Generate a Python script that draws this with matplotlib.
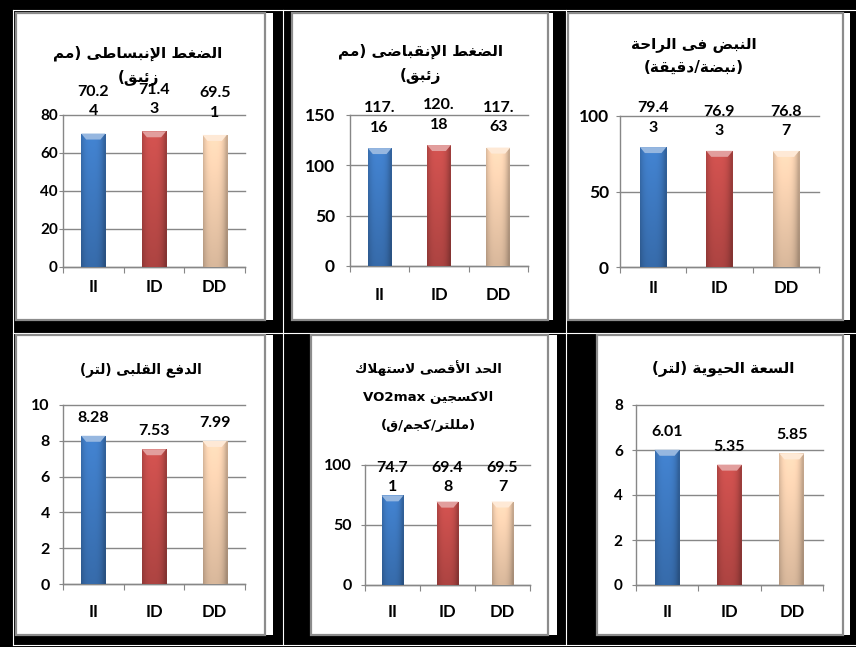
import re

import numpy as np
import matplotlib
matplotlib.use('Agg')
from matplotlib import pyplot as plt
from matplotlib.patches import Rectangle, Polygon
from matplotlib.transforms import blended_transform_factory

W, H = 856, 647
DPI = 100

GROUPS = ['II', 'ID', 'DD']

DIASTOLIC = [70.24, 71.43, 69.51]
SYSTOLIC = [117.16, 120.18, 117.63]
RESTING_PULSE = [79.43, 76.93, 76.87]
CARDIAC_OUTPUT = [8.28, 7.53, 7.99]
VO2MAX = [74.71, 69.48, 69.57]
VITAL_CAPACITY = [6.01, 5.35, 5.85]

TITLE_DIASTOLIC = ['الضغط الإنبساطى (مم', 'زئبق)']
TITLE_SYSTOLIC = ['الضغط الإنقباضى (مم', 'زئبق)']
TITLE_PULSE = ['النبض فى الراحة', '(نبضة/دقيقة)']
TITLE_OUTPUT = ['الدفع القلبى (لتر)']
TITLE_VO2 = ['الحد الأقصى لاستهلاك', 'الاكسجين VO2max', '(مللتر/كجم/ق)']
TITLE_VITAL = ['السعة الحيوية (لتر)']

BAR_COLORS = [(0.25, 0.49, 0.78), (0.79, 0.31, 0.30), (0.99, 0.84, 0.71)]
GRID = '#878787'
FRAME = '#8c8c8c'

# base code point in Presentation Forms-B and number of contextual forms
ARABIC_FORMS = {
    'ء': (0xFE80, 1), 'آ': (0xFE81, 2), 'أ': (0xFE83, 2), 'ؤ': (0xFE85, 2),
    'إ': (0xFE87, 2), 'ئ': (0xFE89, 4), 'ا': (0xFE8D, 2), 'ب': (0xFE8F, 4),
    'ة': (0xFE93, 2), 'ت': (0xFE95, 4), 'ث': (0xFE99, 4), 'ج': (0xFE9D, 4),
    'ح': (0xFEA1, 4), 'خ': (0xFEA5, 4), 'د': (0xFEA9, 2), 'ذ': (0xFEAB, 2),
    'ر': (0xFEAD, 2), 'ز': (0xFEAF, 2), 'س': (0xFEB1, 4), 'ش': (0xFEB5, 4),
    'ص': (0xFEB9, 4), 'ض': (0xFEBD, 4), 'ط': (0xFEC1, 4), 'ظ': (0xFEC5, 4),
    'ع': (0xFEC9, 4), 'غ': (0xFECD, 4), 'ف': (0xFED1, 4), 'ق': (0xFED5, 4),
    'ك': (0xFED9, 4), 'ل': (0xFEDD, 4), 'م': (0xFEE1, 4), 'ن': (0xFEE5, 4),
    'ه': (0xFEE9, 4), 'و': (0xFEED, 2), 'ى': (0xFEEF, 2), 'ي': (0xFEF1, 4),
}
LAM_ALEF = {'آ': 0xFEF5, 'أ': 0xFEF7, 'إ': 0xFEF9, 'ا': 0xFEFB}
MIRROR = {'(': ')', ')': '('}


def shape_arabic(text):
    # matplotlib has no Arabic shaping, so pick joined forms and lay out right to left
    out = []
    prev_joins = False
    i = 0
    while i < len(text):
        c = text[i]
        if c not in ARABIC_FORMS:
            out.append(c)
            prev_joins = False
            i += 1
            continue
        nxt = text[i + 1] if i + 1 < len(text) else ''
        if c == 'ل' and nxt in LAM_ALEF:
            out.append(chr(LAM_ALEF[nxt] + (1 if prev_joins else 0)))
            prev_joins = False
            i += 2
            continue
        base, n = ARABIC_FORMS[c]
        joins_next = n == 4 and nxt in ARABIC_FORMS
        if n == 1:
            form = 0
        elif prev_joins and joins_next:
            form = 3
        elif joins_next:
            form = 2
        elif prev_joins:
            form = 1
        else:
            form = 0
        out.append(chr(base + form))
        prev_joins = n == 4
        i += 1

    runs = re.findall(r'[A-Za-z0-9.]+|[^A-Za-z0-9.]+', ''.join(out))
    visual = []
    for run in reversed(runs):
        if re.match(r'[A-Za-z0-9.]', run):
            visual.append(run)
        else:
            visual.append(''.join(MIRROR.get(ch, ch) for ch in reversed(run)))
    return ''.join(visual)


def wrap_label(v, width=4):
    s = f'{v:.2f}'
    return s if len(s) <= width else s[:width] + '\n' + s[width:]


def fx(x):
    return x / W


def fy(y):
    return 1 - y / H


def px_rect(x0, y0, x1, y1, **kw):
    return Rectangle((fx(x0), fy(y1)), (x1 - x0) / W, (y1 - y0) / H,
                     transform=fig.transFigure, **kw)


def shade_bar(ax, bar, rgb, px_w, px_h):
    x0, w, h = bar.get_x(), bar.get_width(), bar.get_height()
    u = np.linspace(0, 1, 40)
    across = 1.0 - 0.25 * np.clip(np.abs(u - 0.45) / 0.5, 0, 1) ** 3
    down = np.linspace(1.06, 0.86, 60)
    img = np.asarray(rgb)[None, None, :] * down[:, None, None] * across[None, :, None]
    im = ax.imshow(np.clip(img, 0, 1), extent=(x0, x0 + w, 0, h), aspect='auto',
                   zorder=3, interpolation='bilinear')
    im.set_clip_path(bar)
    # light facet on the top edge of the bar
    dx, dy = 5 * px_w, 6 * px_h
    light = tuple(0.55 * np.asarray(rgb) + 0.45)
    ax.add_patch(Polygon([(x0, h), (x0 + w, h), (x0 + w - dx, h - dy), (x0 + dx, h - dy)],
                         closed=True, fc=light, ec='none', zorder=4))


PANELS = [
    dict(values=DIASTOLIC, title=TITLE_DIASTOLIC, yticks=[0, 20, 40, 60, 80],
         frame=(16, 13, 265, 320), cell=273, plot=(63, 115, 245, 267),
         title_xy=(138, 66), title_size=11, title_ls=1.75, cat_y=287, pad=5,
         tick_size=11, label_off=11, clamp=False),
    dict(values=SYSTOLIC, title=TITLE_SYSTOLIC, yticks=[0, 50, 100, 150],
         frame=(292, 13, 548, 320), cell=553, plot=(350, 115, 528, 266),
         title_xy=(420, 64), title_size=11, title_ls=1.75, cat_y=295, pad=15,
         tick_size=12.5, label_off=9.5, clamp=False),
    dict(values=RESTING_PULSE, title=TITLE_PULSE, yticks=[0, 50, 100],
         frame=(568, 13, 843, 320), cell=850, plot=(620, 116, 819, 267),
         title_xy=(694, 56), title_size=11, title_ls=1.7, cat_y=288, pad=11,
         tick_size=12.5, label_off=9, clamp=False),
    dict(values=CARDIAC_OUTPUT, title=TITLE_OUTPUT, yticks=[0, 2, 4, 6, 8, 10],
         frame=(16, 335, 265, 635), cell=273, plot=(63, 405, 245, 584),
         title_xy=(141, 370), title_size=9.8, title_ls=1.3, cat_y=612, pad=13,
         tick_size=11.5, label_off=8, clamp=False),
    dict(values=VO2MAX, title=TITLE_VO2, yticks=[0, 50, 100],
         frame=(311, 335, 548, 635), cell=557, plot=(365, 465, 530, 585),
         title_xy=(428, 396), title_size=9.6, title_ls=2.5, cat_y=612, pad=13,
         tick_size=11.5, label_off=3, clamp=True),
    dict(values=VITAL_CAPACITY, title=TITLE_VITAL, yticks=[0, 2, 4, 6, 8],
         frame=(597, 335, 843, 635), cell=850, plot=(636, 405, 823, 585),
         title_xy=(723, 368), title_size=11, title_ls=1.3, cat_y=612, pad=13,
         tick_size=11, label_off=8, clamp=False),
]

plt.rcParams['font.family'] = ['Lato', 'DejaVu Sans']
plt.rcParams['font.weight'] = 'bold'

fig = plt.figure(figsize=(W / DPI, H / DPI), dpi=DPI, facecolor='black')

# table lines between the cells
for y in (9.5, 332.5, 645):
    fig.add_artist(plt.Line2D([fx(13.5), 1], [fy(y), fy(y)], color='white', lw=0.8,
                              zorder=-3))
for x in (13.5, 283, 565.5):
    fig.add_artist(plt.Line2D([fx(x), fx(x)], [fy(9.5), fy(645)], color='white', lw=0.8,
                              zorder=-3))

for p in PANELS:
    fx0, fy0, fx1, fy1 = p['frame']
    fig.add_artist(px_rect(fx0, fy0, p['cell'], fy1, fc='white', ec='none', zorder=-2))
    fig.add_artist(px_rect(fx0, fy0, fx1, fy1, fc='none', ec=FRAME, lw=1.6, zorder=-1))

    x0, ytop, x1, ybot = p['plot']
    ax = fig.add_axes([fx(x0), fy(ybot), (x1 - x0) / W, (ybot - ytop) / H])
    ax.set_facecolor('none')
    ymax = p['yticks'][-1]
    px_w = 3 / (x1 - x0)
    px_h = ymax / (ybot - ytop)

    xs = np.arange(len(GROUPS))
    bars = ax.bar(xs, p['values'], width=0.4, color=BAR_COLORS, zorder=2)
    for bar, rgb in zip(bars, BAR_COLORS):
        shade_bar(ax, bar, rgb, px_w, px_h)

    for x, v in zip(xs, p['values']):
        if p['clamp']:
            ax.annotate(wrap_label(v), (x, ymax), xytext=(0, p['label_off']),
                        textcoords='offset points', ha='center', va='top', fontsize=11.5,
                        linespacing=1.5, annotation_clip=False, zorder=5)
        else:
            ax.annotate(wrap_label(v), (x, v), xytext=(0, p['label_off']),
                        textcoords='offset points', ha='center', va='bottom', fontsize=11.5,
                        linespacing=1.5, annotation_clip=False, zorder=5)

    ax.set_xlim(-0.5, len(GROUPS) - 0.5)
    ax.set_ylim(0, ymax)
    ax.set_yticks(p['yticks'])
    ax.yaxis.grid(True, color=GRID, lw=1.0)
    for gl in ax.get_ygridlines():
        gl.set_clip_on(False)
    ax.set_axisbelow(True)
    for side in ('top', 'right'):
        ax.spines[side].set_visible(False)
    for side in ('left', 'bottom'):
        ax.spines[side].set_color(GRID)
        ax.spines[side].set_linewidth(1.0)
    ax.tick_params(axis='y', length=3, color=GRID, pad=max(p['pad'] - 4, 1) * 0.72,
                   labelsize=p['tick_size'])
    ax.set_xticks(np.arange(len(GROUPS) + 1) - 0.5)
    ax.set_xticklabels([])
    ax.tick_params(axis='x', length=4, color=GRID)

    trans = blended_transform_factory(ax.transData, fig.transFigure)
    for x, g in zip(xs, GROUPS):
        ax.text(x, fy(p['cat_y']), g, transform=trans, ha='center', va='center',
                fontsize=12)

    tx, ty = p['title_xy']
    fig.text(fx(tx), fy(ty), '\n'.join(shape_arabic(t) for t in p['title']),
             ha='center', va='center', ma='center', fontsize=p['title_size'],
             family=['DejaVu Sans'], weight='bold', linespacing=p['title_ls'])

fig.savefig('out.png', dpi=DPI, facecolor='black')
